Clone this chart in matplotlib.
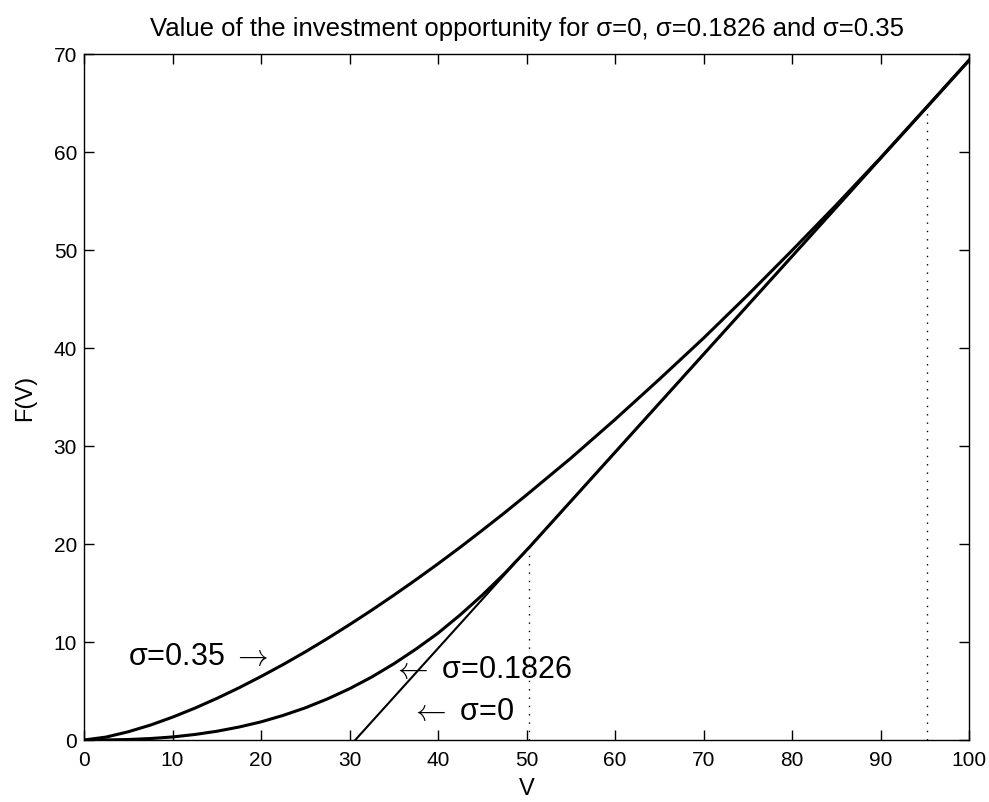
import matplotlib
matplotlib.use("Agg")
import matplotlib.pyplot as plt

plt.rcParams['font.family'] = ['Liberation Sans', 'DejaVu Sans']
plt.rcParams['mathtext.fontset'] = 'cm'

# Values
V_grid = [0, 2.5, 5, 7.5, 10, 12.5, 15, 17.5, 20, 22.5, 25, 27.5, 30, 32.5, 35, 37.5,
          40, 42.5, 45, 47.5, 50, 55, 60, 65, 70, 75, 80, 85, 90, 95.3, 100]
F_sigma035 = [0, 0.30, 0.84, 1.52, 2.33, 3.24, 4.24, 5.32, 6.48, 7.70, 8.99, 10.35,
              11.77, 13.24, 14.77, 16.35, 17.98, 19.66, 21.4, 23.17, 25.0, 28.75,
              32.7, 36.8, 41.0, 45.4, 49.95, 54.6, 59.4, 64.65, 69.35]

V_mid = [0, 2.5, 5, 7.5, 10, 12.5, 15, 17.5, 20, 22.5, 25, 27.5, 30, 32.5, 35, 37.5,
         40, 42.5, 45, 47.5, 50.3, 55, 60, 65, 70, 75, 80, 85, 90, 95, 100]
F_sigma01826 = [0, 0.01, 0.05, 0.15, 0.31, 0.56, 0.89, 1.32, 1.85, 2.51, 3.28, 4.19,
                5.23, 6.42, 7.77, 9.27, 10.9, 12.76, 14.78, 16.97, 19.65, 24.35,
                29.35, 34.35, 39.35, 44.35, 49.35, 54.35, 59.35, 64.35, 69.35]

V_zero = [30.65, 100]
F_sigma0 = [0, 69.35]

# critical thresholds (dotted verticals)
V_star = [50.3, 95.3]
F_star = [19.65, 64.65]

x_ticks = [0, 10, 20, 30, 40, 50, 60, 70, 80, 90, 100]
y_ticks = [0, 10, 20, 30, 40, 50, 60, 70]

fig = plt.figure(figsize=(9.89, 8.03), dpi=100)
ax = fig.add_axes([84/989, 1 - 741/803, (969-84)/989, (741-55)/803])

ax.plot(V_zero, F_sigma0, color='black', lw=1.5)
ax.plot(V_mid, F_sigma01826, color='black', lw=2.2)
ax.plot(V_grid, F_sigma035, color='black', lw=2.2)
for vs, fs in zip(V_star, F_star):
    ax.plot([vs, vs], [0, fs], color='black', lw=1.0, linestyle=(0, (1, 5)))

ax.set_xlim(0, 100)
ax.set_ylim(0, 70)
ax.set_xticks(x_ticks)
ax.set_yticks(y_ticks)
ax.tick_params(direction='in', length=7, width=1, top=True, right=True,
               labelsize=15, colors='black')
ax.tick_params(axis='x', pad=7)
ax.tick_params(axis='y', pad=5)
for s in ax.spines.values():
    s.set_linewidth(1.0)

ax.set_title('Value of the investment opportunity for σ=0, σ=0.1826 and σ=0.35',
             fontsize=18.5, pad=14)
ax.set_xlabel('V', fontsize=17, labelpad=6)
ax.set_ylabel('F(V)', fontsize=17, labelpad=13)

ax.text(5.0, 8.6, 'σ=0.35 $\\rightarrow$', fontsize=22, va='center', ha='left')
ax.text(34.8, 7.2, '$\\leftarrow$ σ=0.1826', fontsize=22, va='center', ha='left')
ax.text(36.8, 2.95, '$\\leftarrow$ σ=0', fontsize=22, va='center', ha='left')

fig.savefig('out.png', dpi=100)
